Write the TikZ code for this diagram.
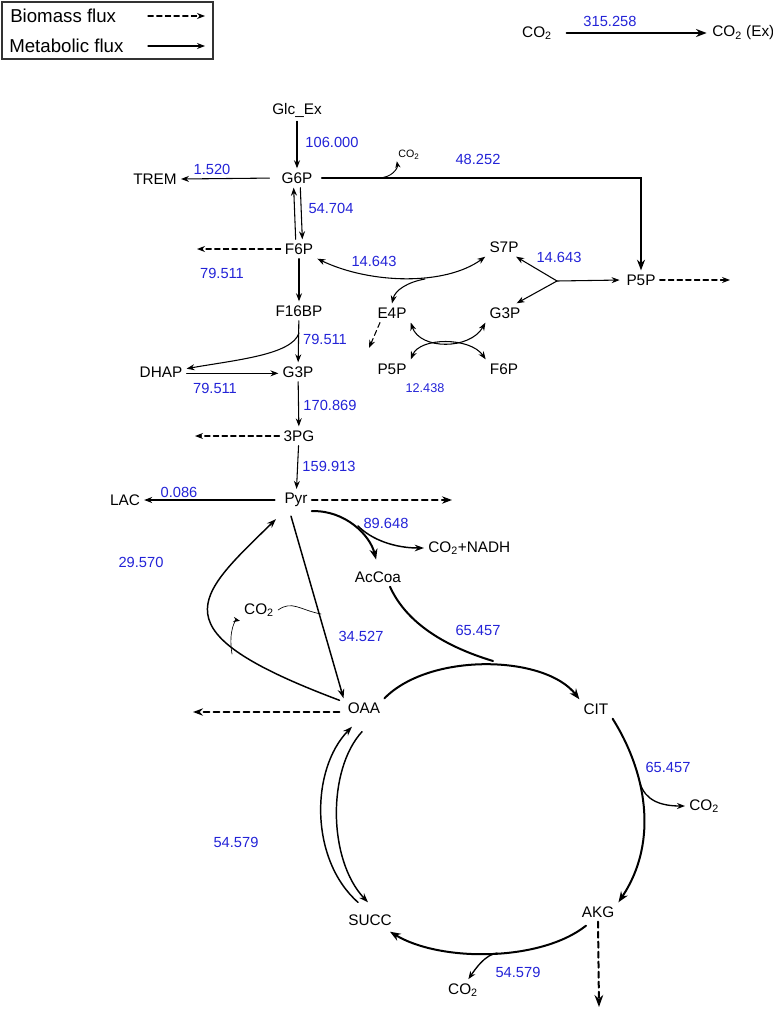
\documentclass[tikz,border=0pt]{standalone}
\usepackage{fontspec}
\setmainfont{Liberation Sans}
\usepackage{xcolor}
\definecolor{fluxblue}{RGB}{35,35,215}
\usetikzlibrary{arrows.meta}

\begin{document}
\begin{tikzpicture}[x=0.75pt,y=-0.75pt,line cap=round]
	\tikzstyle{met}=[inner sep=3pt,font=\fontsize{11.5}{13}\selectfont];
	\tikzstyle{val}=[inner sep=0pt,text=fluxblue,font=\fontsize{11}{13}\selectfont];
	\tikzstyle{flux}=[line width=0.8pt,-{Stealth[length=6pt,width=4.5pt]}];
	\tikzstyle{midflux}=[line width=1.1pt,-{Stealth[length=7pt,width=5pt]}];
	\tikzstyle{bigflux}=[line width=1.5pt,-{Stealth[length=8pt,width=6pt]}];
	\tikzstyle{bio}=[flux,dash pattern=on 4pt off 2.5pt];
	\tikzstyle{bigbio}=[line width=1.2pt,dash pattern=on 4.5pt off 3pt,-{Stealth[length=7.5pt,width=5.5pt]}];
	\tikzstyle{thinflux}=[line width=0.5pt,-{Stealth[length=5pt,width=4pt]}];
	\useasboundingbox (0,0) rectangle (773,1010);
	% legend
	\draw[line width=1pt,black!80] (2,2) rectangle (213,59);
	\node[met,anchor=west,font=\fontsize{14}{16}\selectfont] (bmlab) at (6,16) {Biomass flux};
	\node[met,anchor=west,font=\fontsize{14}{16}\selectfont] (mflab) at (5,46) {Metabolic flux};
	\coordinate (bms) at (148,16);
	\coordinate (bme) at (205,16);
	\coordinate (mfs) at (148,46);
	\coordinate (mfe) at (205,46);
	\draw[bio] (bms) -- (bme);
	\draw[flux] (mfs) -- (mfe);
	% CO2 exchange
	\node[met] (co2a) at (537,33) {CO\textsubscript{2}};
	\node[met,anchor=west] (co2ex) at (708,33) {CO\textsubscript{2} (Ex)};
	\draw[bigflux,line width=1.8pt,shorten <=8pt,shorten >=1pt] (co2a.east) -- (co2ex.west);
	\node[val] (v315) at (610,21) {315.258};
	% glycolysis
	\node[met] (Glc) at (297,110) {Glc\_Ex};
	\node[met] (G6P) at (297,178) {G6P};
	\node[met] (TREM) at (155,179) {TREM};
	\node[met] (F6P) at (299,249) {F6P};
	\node[met] (F16BP) at (299,311) {F16BP};
	\node[met] (DHAP) at (161,372) {DHAP};
	\node[met] (G3P) at (298,372) {G3P};
	\node[met] (PG3) at (299,436) {3PG};
	\node[met] (Pyr) at (296,500) {Pyr};
	\node[met] (LAC) at (125,500) {LAC};
	\node[met,inner sep=1pt,font=\fontsize{8}{9}\selectfont] (co2g) at (409,155) {CO\textsubscript{2}};
	\coordinate (f6pout) at (197,249);
	\coordinate (pg3out) at (195,436);
	\coordinate (pyrout) at (452,500);
	\coordinate (gbr) at (378,178);
	\coordinate (fbr) at (299,333);
	\draw[flux] (Glc) -- (G6P);
	\draw[flux,shorten <=6pt] (G6P.west) -- (TREM.east);
	\draw[thinflux,line width=0.7pt] (gbr) .. controls (392,178) and (398,168) .. (co2g.south west);
	\draw[flux] ([xshift=-2.5pt]F6P.north) -- ([xshift=-2.5pt]G6P.south);
	\draw[flux] ([xshift=2.5pt]G6P.south) -- ([xshift=2.5pt]F6P.north);
	\draw[bio] (F6P.west) -- (f6pout);
	\draw[flux] (F6P) -- (F16BP);
	\draw[flux] (F16BP) -- (G3P);
	\draw[flux] (fbr) .. controls (292,355) and (235,360) .. ([yshift=2.5pt]DHAP.east);
	\draw[flux] ([yshift=-1pt]DHAP.east) -- ([yshift=-1pt]G3P.west);
	\draw[flux] (G3P) -- (PG3);
	\draw[bio] (PG3.west) -- (pg3out);
	\draw[flux] (PG3) -- (Pyr);
	\draw[flux,shorten <=4pt] (Pyr.west) -- (LAC.east);
	\draw[bigbio] (Pyr.east) -- (pyrout);
	\node[val] (v106) at (332,142) {106.000};
	\node[val] (v1520) at (212,169) {1.520};
	\node[val] (v482) at (478,159) {48.252};
	\node[val] (v547) at (331,208) {54.704};
	\node[val] (v795a) at (222,273) {79.511};
	\node[val] (v795b) at (325,339) {79.511};
	\node[val] (v795c) at (215,388) {79.511};
	\node[val] (v170) at (330,405) {170.869};
	\node[val] (v159) at (329,466) {159.913};
	\node[val] (v0086) at (179,492) {0.086};
	% pentose phosphate
	\node[met] (S7P) at (504,247) {S7P};
	\node[met] (E4P) at (392,313) {E4P};
	\node[met] (G3Pb) at (505,313) {G3P};
	\node[met] (P5Pb) at (392,369) {P5P};
	\node[met] (F6Pb) at (504,369) {F6P};
	\node[met] (P5P) at (641,280) {P5P};
	\coordinate (ebr) at (425,279);
	\coordinate (jn) at (557,281);
	\coordinate (e4pout) at (369,348);
	\coordinate (p5pout) at (730,280);
	\draw[bigflux,shorten <=4pt] (G6P.east) -| (P5P.north);
	\draw[flux,{Stealth[length=6pt,width=4.5pt]}-{Stealth[length=6pt,width=4.5pt]}] (F6P.south east) .. controls (370,284) and (445,286) .. (S7P.south west);
	\draw[flux] (ebr) .. controls (408,282) and (395,290) .. (E4P.north);
	\draw[bio] ([xshift=-9pt]E4P.south) -- (e4pout);
	\draw[flux,{Stealth[length=6pt,width=4.5pt]}-{Stealth[length=6pt,width=4.5pt]}] (E4P.south east) .. controls (420,350) and (470,350) .. (G3Pb.south west);
	\draw[flux,{Stealth[length=6pt,width=4.5pt]}-{Stealth[length=6pt,width=4.5pt]}] (P5Pb.north east) .. controls (420,337) and (470,337) .. (F6Pb.north west);
	\draw[flux] (jn) -- ([xshift=-5pt]S7P.south east);
	\draw[flux] (jn) -- ([xshift=-6pt]G3Pb.north east);
	\draw[flux,shorten >=2pt] (jn) -- (P5P.west);
	\draw[bio] (P5P.east) -- (p5pout);
	\node[val] (v146a) at (374,261) {14.643};
	\node[val] (v146b) at (559,257) {14.643};
	\node[val,font=\fontsize{9.5}{11}\selectfont] (v124) at (425,388) {12.438};
	% TCA cycle
	\node[met] (AcCoa) at (378,577) {AcCoa};
	\node[met,anchor=west] (co2n) at (424,548) {CO\textsubscript{2}+NADH};
	\node[met] (OAA) at (364,708) {OAA};
	\node[met] (CIT) at (596,709) {CIT};
	\node[met] (AKG) at (598,912) {AKG};
	\node[met] (SUCC) at (370,920) {SUCC};
	\node[met] (co2p) at (259,610) {CO\textsubscript{2}};
	\node[met,anchor=west] (co2c) at (685,806) {CO\textsubscript{2}};
	\node[met] (co2s) at (463,990) {CO\textsubscript{2}};
	\coordinate (pbr) at (358,526);
	\coordinate (obr) at (232,654);
	\coordinate (qbr) at (321,614);
	\coordinate (abr) at (493,661);
	\coordinate (cbr) at (640,783);
	\coordinate (sbr) at (497,953);
	\coordinate (oaaout) at (193,712);
	\coordinate (akgout) at (599,1007);
	\draw[bigflux,shorten >=6pt] (Pyr.south east) .. controls (345,510) and (370,535) .. (AcCoa.north);
	\draw[midflux] (pbr) .. controls (372,540) and (395,548) .. (co2n.west);
	\draw[midflux] ([shift={(-5,5)}]Pyr.south) -- (OAA.north west);
	\draw[midflux] ([shift={(-4,2)}]OAA.north west) .. controls (155,631) and (195,598) .. ([shift={(-20,8)}]Pyr.south);
	\draw[thinflux] (obr) .. controls (228,630) and (236,620) .. (co2p.south west);
	\draw[line width=0.5pt] (co2p.east) .. controls (292,600) and (300,610) .. (qbr);
	\draw[bigbio,shorten <=3pt] ([yshift=-3pt]OAA.west) -- (oaaout);
	\draw[line width=1.5pt] ([xshift=9pt]AcCoa.south) .. controls (405,620) and (440,645) .. (abr);
	\draw[bigflux] (OAA.north east) .. controls (430,652) and (545,655) .. (CIT.north west);
	\draw[bigflux] (CIT.south east) .. controls (645,770) and (660,840) .. (AKG.north east);
	\draw[flux,line width=1pt] (cbr) .. controls (645,800) and (660,806) .. (co2c.west);
	\draw[bigflux] ([shift={(-12,4)}]AKG.south) .. controls (540,962) and (440,962) .. ([shift={(-6,2)}]SUCC.south east);
	\draw[flux,line width=1pt] (sbr) .. controls (485,955) and (476,968) .. ([xshift=4pt]co2s.north);
	\draw[bigbio,line width=1.5pt,-{Stealth[length=9pt,width=6.5pt]}] (AKG.south) -- (akgout);
	\draw[midflux] ([shift={(-12,-8)}]SUCC.north) .. controls (310,860) and (310,770) .. ([shift={(-12,9)}]OAA.south);
	\draw[midflux] ([shift={(-2,14)}]OAA.south) .. controls (327,770) and (328,860) .. ([shift={(-2,-8)}]SUCC.north);
	\node[val] (v896) at (386,523) {89.648};
	\node[val] (v295) at (141,562) {29.570};
	\node[val] (v345) at (361,636) {34.527};
	\node[val] (v654a) at (478,630) {65.457};
	\node[val] (v654b) at (668,767) {65.457};
	\node[val] (v545a) at (236,842) {54.579};
	\node[val] (v545b) at (518,972) {54.579};
\end{tikzpicture}
\end{document}
